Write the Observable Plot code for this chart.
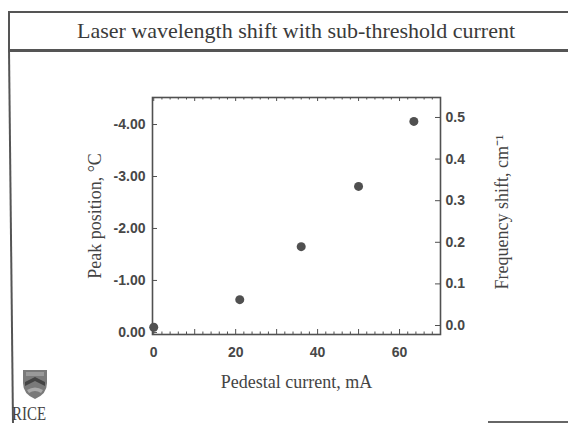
<!DOCTYPE html>
<html><head><meta charset="utf-8">
<script src="https://cdn.jsdelivr.net/npm/d3@7"></script>
<script src="https://cdn.jsdelivr.net/npm/@observablehq/plot@0.6"></script>
<style>
html,body{margin:0;padding:0;background:#fff;}
#wrap{position:relative;width:568px;height:423px;overflow:hidden;background:#fff;}
#wrap > svg{position:absolute;left:0;top:0;}
#titlebox{position:absolute;left:8px;top:11px;width:572px;height:36px;border:2px solid #555;border-bottom-width:3px;
  font-family:"Liberation Serif","Times New Roman",serif;font-size:22px;color:#3a3a3a;text-align:center;line-height:36px;box-sizing:content-box;}
#deco{position:absolute;left:0;top:0;}
</style></head><body><div id="wrap"></div>
<script>
// ---- data ----
const currents = [0, 21, 36, 50, 63.5];               // Pedestal current, mA
const peakPositions = [-0.1, -0.63, -1.65, -2.81, -4.06]; // Peak position, °C
const leftTicks = [0, -1, -2, -3, -4];
const rightTicks = [0, 0.1, 0.2, 0.3, 0.4, 0.5];
const xTickLabels = [0, 20, 40, 60];
const xMajorTicks = [0, 10, 20, 30, 40, 50, 60];
const xMinorTicks = [2, 4, 6, 8, 12, 14, 16, 18, 22, 24, 26, 28, 32, 34, 36, 38, 42, 44, 46, 48, 52, 54, 56, 58, 62, 64, 66, 68];
const titleText = "Laser wavelength shift with sub-threshold current";
const xLabel = "Pedestal current, mA";
const yLabel = "Peak position, °C";
const y2Label = "Frequency shift, cm⁻¹";

// ---- layout ----
const W = 568, H = 423;
const mL = 152, mR = 128, mT = 97, mB = 89;
const innerW = W - mL - mR, innerH = H - mT - mB;
const xDomain = [-0.3, 70];
const yDomain = [0.04, -4.52];      // bottom -> top
const y2Domain = [-0.0216, 0.548];  // bottom -> top for right axis
const toLeft = f => yDomain[0] + (f - y2Domain[0]) / (y2Domain[1] - y2Domain[0]) * (yDomain[1] - yDomain[0]);

const points = currents.map((c, i) => ({c, p: peakPositions[i]}));
const ink = "#505050";
const serif = "Liberation Serif";

const chart = Plot.plot({
  width: W, height: H,
  marginLeft: mL, marginRight: mR, marginTop: mT, marginBottom: mB,
  x: {domain: xDomain, label: null},
  y: {domain: yDomain, label: null},
  style: {fontFamily: "Liberation Sans", fontSize: "14px", fontWeight: "bold", color: "#474747", background: "transparent", overflow: "visible"},
  marks: [
    Plot.frame({stroke: ink, strokeWidth: 1.6}),
    // inward ticks bottom / top
    Plot.tickX(xMajorTicks, {x: d => d, insetTop: innerH - 5, stroke: ink}),
    Plot.tickX(xMinorTicks, {x: d => d, insetTop: innerH - 2.5, stroke: ink}),
    Plot.tickX(xMajorTicks, {x: d => d, insetBottom: innerH - 4, stroke: ink}),
    Plot.tickX(xMinorTicks, {x: d => d, insetBottom: innerH - 2.5, stroke: ink}),
    // inward ticks left / right
    Plot.tickY(leftTicks, {y: d => d, insetRight: innerW - 5, stroke: ink}),
    Plot.tickY(rightTicks, {y: d => toLeft(d), insetLeft: innerW - 5, stroke: ink}),
    Plot.axisX(xTickLabels, {x: d => d, tickSize: 0, tickPadding: 13, tickFormat: d => String(d), label: null}),
    Plot.axisY(leftTicks, {y: d => d, anchor: "left", tickSize: 0, tickPadding: 7, tickFormat: d => d.toFixed(2), label: null}),
    Plot.axisY(rightTicks, {y: d => toLeft(d), anchor: "right", tickSize: 0, tickPadding: 5, tickFormat: d => d.toFixed(1), label: null}),
    Plot.dot(points, {x: "c", y: "p", r: 4.5, fill: ink, stroke: null}),
    Plot.text([xLabel], {text: d => d, frameAnchor: "bottom", textAnchor: "middle", lineAnchor: "middle", dy: 48, fontFamily: serif, fontSize: 18, fontWeight: "normal", fill: "#444"}),
    Plot.text([yLabel], {text: d => d, frameAnchor: "left", textAnchor: "middle", lineAnchor: "middle", rotate: -90, dx: -57, fontFamily: serif, fontSize: 18, fontWeight: "normal", fill: "#444"}),
    Plot.text([y2Label], {text: d => d, frameAnchor: "right", textAnchor: "middle", lineAnchor: "middle", rotate: -90, dx: 62, dy: -4, fontFamily: serif, fontSize: 18, fontWeight: "normal", fill: "#444"})
  ]
});

const wrap = document.getElementById("wrap");
wrap.appendChild(chart);

// slide decoration: borders and logo
const ns = "http://www.w3.org/2000/svg";
const deco = document.createElementNS(ns, "svg");
deco.setAttribute("id", "deco");
deco.setAttribute("width", W); deco.setAttribute("height", H);
deco.innerHTML = `
  <line x1="9" y1="50" x2="13" y2="423" stroke="#555" stroke-width="2"/>
  <line x1="488" y1="422" x2="568" y2="422" stroke="#666" stroke-width="2"/>
  <g transform="translate(23,370)">
    <path d="M0,0 L24,0 L24,13 Q24,24 12,29 Q0,24 0,13 Z" fill="#7a7a7a"/>
    <path d="M2,12 L12,7 L22,12 L22,16 L12,11 L2,16 Z" fill="#444"/>
    <path d="M4,20 Q12,15 20,20 L18,23 Q12,19 6,23 Z" fill="#aaa"/>
    <rect x="3" y="2" width="18" height="4" fill="#999"/>
  </g>
  <text x="12" y="420" font-family="Liberation Serif" font-size="19" fill="#444" textLength="34" lengthAdjust="spacingAndGlyphs">RICE</text>
`;
wrap.appendChild(deco);

const tb = document.createElement("div");
tb.id = "titlebox";
tb.textContent = titleText;
wrap.appendChild(tb);
</script>
</body></html>
